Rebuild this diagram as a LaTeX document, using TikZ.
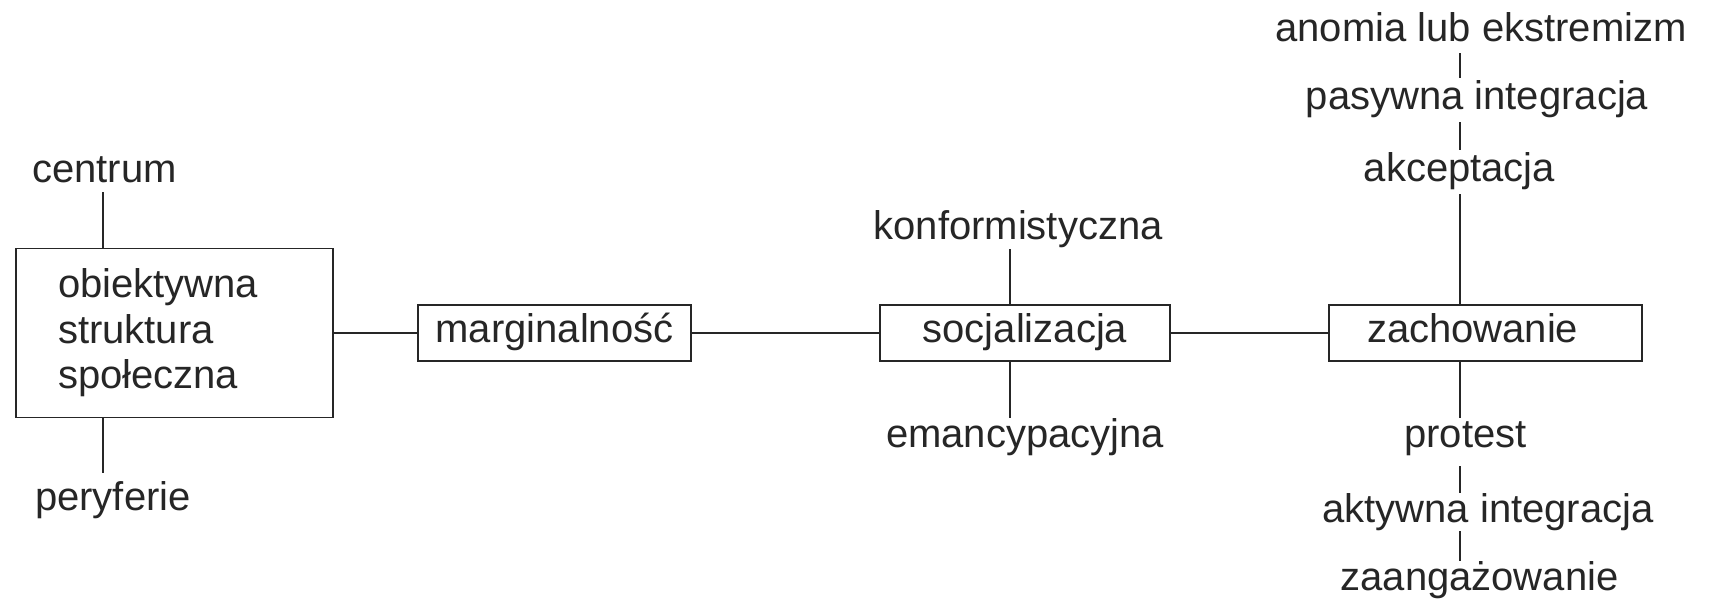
\documentclass[tikz,border=0pt]{standalone}
\usepackage{fontspec}
\setmainfont{Liberation Sans}
\definecolor{ink}{gray}{0.15}
\begin{document}
\begin{tikzpicture}[x=1pt,y=-1pt,
  font=\fontsize{40}{45.5}\selectfont,
  lbl/.style={inner sep=0pt, text height=29pt, text depth=9pt, anchor=base, text=ink},
  box/.style={draw=ink, line width=1.7pt, inner sep=0pt, text height=29pt, text depth=9pt, minimum height=56pt, text=ink},
  conn/.style={draw=ink, line width=1.6pt}]
\fill[white] (0,0) rectangle (1710,601);
\useasboundingbox (0,0) rectangle (1710,601);
% left column
\node[lbl] (centrum) at (104.5,183) {centrum};
\node[lbl] (peryferie) at (113,510) {peryferie};
\node[draw=ink, line width=1.7pt, minimum width=317pt, minimum height=169pt,
      text width=233pt, inner xsep=42pt, inner ysep=0pt, align=left, text=ink]
      (lbox) at (174.5,333) {obiektywna\\struktura\\społeczna};
% boxes
\node[box, minimum width=273pt] (marg) at (554.5,333) {marginalność};
\node[box, minimum width=290pt] (soc) at (1025,333) {socjalizacja};
\node[box, minimum width=313pt, text width=237pt, inner xsep=38pt, align=left] (zach) at (1485.5,333) {zachowanie};
% labels
\node[lbl] (konf) at (1018,240) {konformistyczna};
\node[lbl] (eman) at (1025,447) {emancypacyjna};
\node[lbl] (anomia) at (1481,42) {anomia lub ekstremizm};
\node[lbl] (pasyw) at (1477,110) {pasywna integracja};
\node[lbl] (akcept) at (1459.5,182) {akceptacja};
\node[lbl] (protest) at (1465.5,447) {protest};
\node[lbl] (aktyw) at (1488,522) {aktywna integracja};
\node[lbl] (zaang) at (1479.5,590) {zaangażowanie};
% axes
\coordinate (axL) at (103,0);
\coordinate (axM) at (1010,0);
\coordinate (axR) at (1460,0);
% connectors
\draw[conn] (centrum.south -| axL) -- (lbox.north -| axL);
\draw[conn, shorten >=8pt] (lbox.south -| axL) -- (peryferie.north -| axL);
\draw[conn] (lbox.east) -- (marg.west);
\draw[conn] (marg.east) -- (soc.west);
\draw[conn] (soc.east) -- (zach.west);
\draw[conn] (konf.south -| axM) -- (soc.north -| axM);
\draw[conn] (soc.south -| axM) -- (eman.north -| axM);
\draw[conn, shorten <=2pt, shorten >=3pt] (anomia.south -| axR) -- (pasyw.north -| axR);
\draw[conn, shorten <=3pt, shorten >=3pt] (pasyw.south -| axR) -- (akcept.north -| axR);
\draw[conn, shorten <=3pt] (akcept.south -| axR) -- (zach.north -| axR);
\draw[conn] (zach.south -| axR) -- (protest.north -| axR);
\draw[conn, shorten <=10pt] (protest.south -| axR) -- (aktyw.north -| axR);
\draw[conn] (aktyw.south -| axR) -- (zaang.north -| axR);
\end{tikzpicture}
\end{document}
